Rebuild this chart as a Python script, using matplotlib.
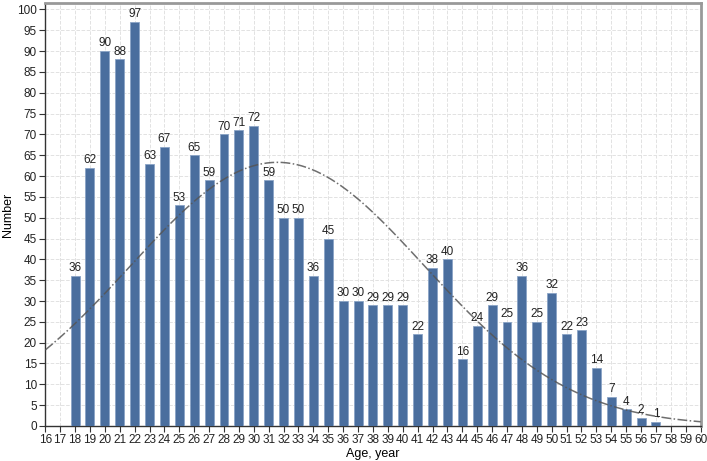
import numpy as np
import matplotlib
matplotlib.use('Agg')
import matplotlib.pyplot as plt

plt.rcParams['font.family'] = ['Liberation Sans', 'DejaVu Sans']

# Alder og antal
ages = list(range(18, 58))
counts = [36, 62, 90, 88, 97, 63, 67, 53, 65, 59, 70, 71, 72, 59, 50, 50, 36, 45,
          30, 30, 29, 29, 29, 22, 38, 40, 16, 24, 29, 25, 36, 25, 32, 22, 23, 14,
          7, 4, 2, 1]
x_ticks = list(range(16, 61))
y_ticks = list(range(0, 101, 5))
curve_peak = 63.3  # top of the fitted curve

fig = plt.figure(figsize=(7.07, 4.61), dpi=100)
ax = fig.add_axes([0.064, 0.076, 0.927, 0.917])

ax.bar(ages, counts, width=0.6, color='#4A6E9E', edgecolor='#8AA4C6',
       linewidth=0.6, zorder=3)
for a, c in zip(ages, counts):
    ax.text(a, c + 0.4, str(c), ha='center', va='bottom', fontsize=8.5,
            color='#222222', zorder=5)

# Normalfordelingskurve (middel og spredning fra data)
w = np.array(counts, dtype=float)
a_arr = np.array(ages, dtype=float)
mu = (a_arr * w).sum() / w.sum()
sd = np.sqrt(((a_arr - mu) ** 2 * w).sum() / w.sum())
xs = np.linspace(16, 60, 400)
ys = curve_peak * np.exp(-(xs - mu) ** 2 / (2 * sd ** 2))
ax.plot(xs, ys, color='#555555', linestyle='-.', linewidth=1.1, alpha=0.85, zorder=4)

ax.set_xlim(16, 60)
ax.set_ylim(0, 101.5)
ax.set_xticks(x_ticks)
ax.set_yticks(y_ticks)
ax.tick_params(labelsize=8.5, length=4, pad=2, color='#333333', labelcolor='#222222')
ax.grid(True, color='#E2E2E2', linestyle='--', linewidth=0.7, zorder=0)
ax.set_xlabel('Age, year', fontsize=9, labelpad=1)
ax.set_ylabel('Number', fontsize=9, labelpad=2)

for s in ['top', 'right']:
    ax.spines[s].set_color('#999999')
    ax.spines[s].set_linewidth(2)
for s in ['left', 'bottom']:
    ax.spines[s].set_color('#333333')
    ax.spines[s].set_linewidth(1)

fig.savefig('out.png', dpi=100)
